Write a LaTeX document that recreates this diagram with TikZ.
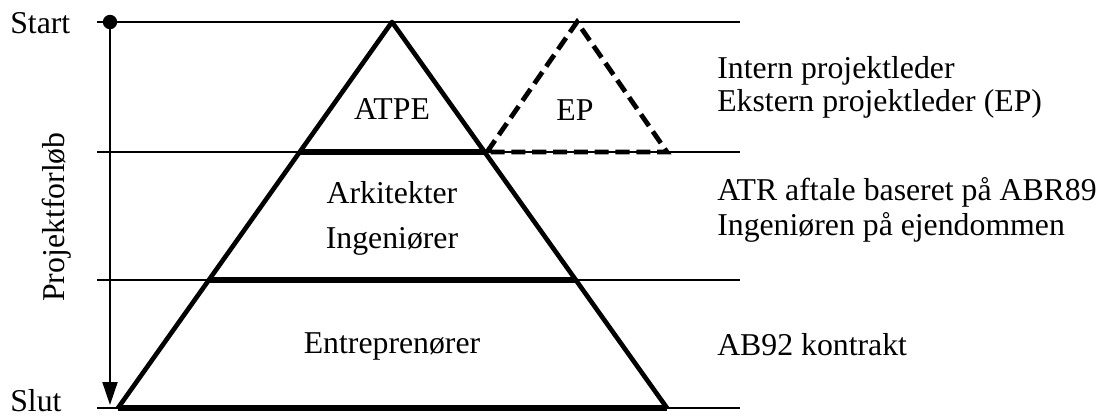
\documentclass[tikz,border=0pt]{standalone}
\usepackage{fontspec}
\setmainfont{Liberation Serif}
\usetikzlibrary{arrows.meta}

\begin{document}
\begin{tikzpicture}[x=0.25mm,y=-0.25mm,
  every node/.style={font=\fontsize{22.6}{23.5}\selectfont,inner sep=0pt},
  level/.style={line width=1.4pt},
  layer/.style={line width=3.6pt},
  side/.style={line width=3.3pt,line join=round},
  extern/.style={line width=3.4pt,dash pattern=on 10pt off 4.8pt},
  dot/.style={circle,fill,minimum size=3.6mm}]

\useasboundingbox (0,0) rectangle (1104,416);

\coordinate (a0) at (97,22);   \coordinate (b0) at (740,22);
\coordinate (a1) at (97,152);  \coordinate (b1) at (740,152);
\coordinate (a2) at (97,280);  \coordinate (b2) at (740,280);
\coordinate (a3) at (97,408);  \coordinate (b3) at (740,408);

\coordinate (top) at (392,22);
\coordinate (l1) at (300,152);  \coordinate (r1) at (485,152);
\coordinate (l2) at (209,280);  \coordinate (r2) at (576,280);
\coordinate (bl) at (118,408);  \coordinate (br) at (667,408);

\coordinate (eptop) at (577,22);
\coordinate (epl) at (487,152);  \coordinate (epr) at (667,152);

\node[dot] (start) at (110,22) {};
\coordinate (tip) at (110,405);

\path[level]
  (a0) edge (b0)
  (a1) edge (b1)
  (a2) edge (b2)
  (a3) edge (b3);
\draw[level,-{Triangle[length=5.75mm,width=3.75mm]}] (start) -- (tip);

\path[layer]
  (l1) edge (r1)
  (l2) edge (r2)
  (bl) edge (br);
\draw[side] (bl) -- (top) -- (br);
\draw[extern] (epl) -- (eptop) -- (epr) -- cycle;

\node[anchor=base west] (startlbl) at (10,33) {Start};
\node[anchor=base west] (slutlbl) at (10,411) {Slut};
\node[anchor=base,rotate=90] (forloeb) at (64,217) {Projektforløb};

\node[anchor=base] (atpe) at (392,119) {ATPE};
\node[anchor=base] (ep) at (575,120) {EP};
\node[anchor=base] (ark) at (392,203) {Arkitekter};
\node[anchor=base] (ing) at (392,248) {Ingeniører};
\node[anchor=base] (ent) at (392,353) {Entreprenører};

\node[anchor=base west] (intern) at (717,78) {Intern projektleder};
\node[anchor=base west] (ekstern) at (717,111) {Ekstern projektleder (EP)};
\node[anchor=base west] (atr) at (717,200) {ATR aftale baseret på ABR89};
\node[anchor=base west] (ingej) at (717,235) {Ingeniøren på ejendommen};
\node[anchor=base west] (ab) at (717,355) {AB92 kontrakt};
\end{tikzpicture}
\end{document}
